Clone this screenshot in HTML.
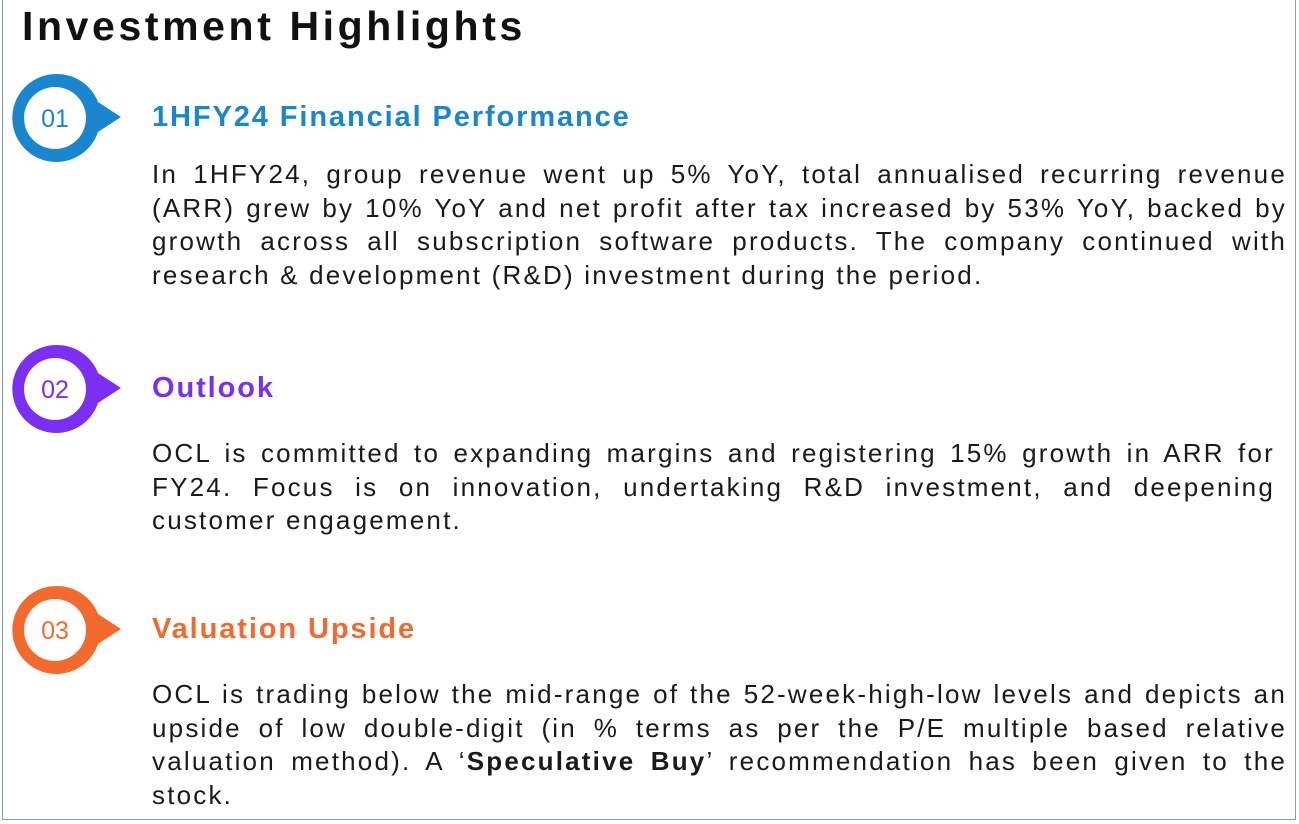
<!DOCTYPE html>
<html><head><meta charset="utf-8"><style>
body{margin:0;width:1299px;height:824px;background:#fff;position:relative;overflow:hidden;font-family:"Liberation Sans",sans-serif;}
#frame{position:absolute;left:2px;top:0;width:1292px;height:819px;border:1.5px solid #7f9ccc;border-top:none;}
h1{position:absolute;left:22px;top:3px;margin:0;font-size:41px;font-weight:bold;color:#111;letter-spacing:3.6px;}
.head{position:absolute;left:152px;font-size:29px;font-weight:bold;letter-spacing:1.9px;line-height:34px;}
.body{position:absolute;left:152px;width:1135px;font-size:26px;color:#1a1a1a;letter-spacing:2.2px;}
.ln{height:33.6px;line-height:33.6px;text-align:justify;text-align-last:justify;white-space:nowrap;}
.ln.last{text-align-last:left;}
svg.icon{position:absolute;left:0;}
</style></head><body>
<div id="frame"></div>
<h1>Investment Highlights</h1>

<svg class="icon" style="top:72px" width="130" height="92" viewBox="0 0 130 92">
<path d="M56 2 A44 44 0 1 0 98 60 L121 45 L98 30 A44 44 0 0 0 56 2Z" fill="#1a86d0"/>
<circle cx="55" cy="46" r="31" fill="#fff"/>
<text x="55" y="55" text-anchor="middle" font-size="25" fill="#1a86d0" font-family="Liberation Sans">01</text></svg>
<div class="head" style="top:100px;color:#1a86d0">1HFY24 Financial Performance</div>
<div class="body" style="top:158px">
<div class="ln">In 1HFY24, group revenue went up 5% YoY, total annualised recurring revenue</div>
<div class="ln">(ARR) grew by 10% YoY and net profit after tax increased by 53% YoY, backed by</div>
<div class="ln">growth across all subscription software products. The company continued with</div>
<div class="ln last">research &amp; development (R&amp;D) investment during the period.</div></div>

<svg class="icon" style="top:343px" width="130" height="92" viewBox="0 0 130 92">
<path d="M56 2 A44 44 0 1 0 98 60 L121 45 L98 30 A44 44 0 0 0 56 2Z" fill="#7b2ff2"/>
<circle cx="55" cy="46" r="31" fill="#fff"/>
<text x="55" y="55" text-anchor="middle" font-size="25" fill="#7b2ff2" font-family="Liberation Sans">02</text></svg>
<div class="head" style="top:371px;color:#7b2ff2">Outlook</div>
<div class="body" style="top:437px;width:1123px">
<div class="ln">OCL is committed to expanding margins and registering 15% growth in ARR for</div>
<div class="ln">FY24. Focus is on innovation, undertaking R&amp;D investment, and deepening</div>
<div class="ln last">customer engagement.</div></div>

<svg class="icon" style="top:584px" width="130" height="92" viewBox="0 0 130 92">
<path d="M56 2 A44 44 0 1 0 98 60 L121 45 L98 30 A44 44 0 0 0 56 2Z" fill="#f26a2e"/>
<circle cx="55" cy="46" r="31" fill="#fff"/>
<text x="55" y="55" text-anchor="middle" font-size="25" fill="#f26a2e" font-family="Liberation Sans">03</text></svg>
<div class="head" style="top:612px;color:#f26a2e">Valuation Upside</div>
<div class="body" style="top:678px">
<div class="ln">OCL is trading below the mid-range of the 52-week-high-low levels and depicts an</div>
<div class="ln">upside of low double-digit (in % terms as per the P/E multiple based relative</div>
<div class="ln">valuation method). A ‘<b>Speculative Buy</b>’ recommendation has been given to the</div>
<div class="ln last">stock.</div></div>
</body></html>
